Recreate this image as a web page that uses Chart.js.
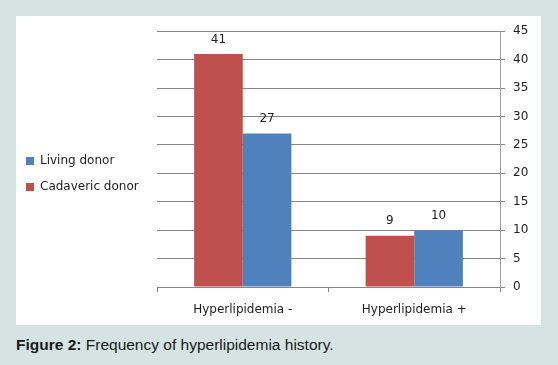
<!DOCTYPE html>
<html>
<head>
<meta charset="utf-8">
<script src="https://cdn.jsdelivr.net/npm/chart.js@4.4.1/dist/chart.umd.min.js"></script>
<style>
  html, body { margin: 0; padding: 0; }
  body { width: 558px; height: 365px; background: #d5e4e2; position: relative; overflow: hidden; }
  #panel { position: absolute; left: 16px; top: 16px; width: 525px; height: 309px; background: #fff; }
  #caption { position: absolute; left: 16px; top: 336px; font: 15.5px "Liberation Sans", Arial, sans-serif; color: #1a1a1a; white-space: nowrap; }
  #caption b { font-weight: bold; }
</style>
</head>
<body>
<div id="panel"><canvas id="chart" width="525" height="309"></canvas></div>
<div id="caption"><b>Figure 2:</b> Frequency of hyperlipidemia history.</div>
<script>
const categories = ["Hyperlipidemia -", "Hyperlipidemia +"];
const cadaveric = [41, 9];
const living = [27, 10];
const yTicks = { min: 0, max: 45, step: 5 };

const palette = {
    cadaveric: "#c0504d",
    living: "#4f81bd",
    grid: "#868686",
    axis: "#a0a0a0",
    text: "#1e1e1e",
};

const font = { family: "'DejaVu Sans', sans-serif", size: 12 };

// fixed legend column width so the plot starts where it does in the original
const legendWidth = {
    id: "legendWidth",
    beforeLayout(chart) {
        const lg = chart.legend;
        if (lg && !lg._fixed) {
            const fit = lg.fit.bind(lg);
            lg.fit = () => { fit(); lg.width = 145; };
            lg._fixed = true;
        }
    },
};

// value labels above each bar
const barLabels = {
    id: "barLabels",
    afterDatasetsDraw(chart) {
        const { ctx } = chart;
        ctx.save();
        ctx.font = `${font.size}px ${font.family}`;
        ctx.fillStyle = palette.text;
        ctx.textAlign = "center";
        ctx.textBaseline = "middle";
        chart.data.datasets.forEach((ds, i) => {
            chart.getDatasetMeta(i).data.forEach((bar, j) => {
                ctx.fillText(String(ds.data[j]), bar.x, bar.y - 14.5);
            });
        });
        ctx.restore();
    },
};

new Chart(document.getElementById("chart"), {
    type: "bar",
    data: {
        labels: categories,
        datasets: [
            { label: "Cadaveric donor", data: cadaveric, backgroundColor: palette.cadaveric },
            { label: "Living donor", data: living, backgroundColor: palette.living },
        ],
    },
    options: {
        responsive: false,
        animation: false,
        devicePixelRatio: 1,
        categoryPercentage: 0.567,
        barPercentage: 1,
        layout: { padding: { left: -4, top: 12, right: 0, bottom: 5 } },
        plugins: {
            legend: {
                position: "left",
                reverse: true,
                labels: { boxWidth: 8, boxHeight: 8, padding: 14, color: palette.text, font },
            },
            tooltip: { enabled: false },
        },
        scales: {
            x: {
                grid: { display: true, offset: true, drawOnChartArea: false, tickLength: 5, color: palette.grid },
                border: { display: true, color: palette.grid },
                ticks: { color: palette.text, font, padding: 11 },
                afterFit: (s) => { s.height = 33; },
            },
            y: {
                position: "right",
                min: yTicks.min,
                max: yTicks.max,
                grid: { color: palette.grid, tickLength: 5 },
                border: { display: true, color: palette.axis },
                ticks: { stepSize: yTicks.step, color: palette.text, font, padding: 8 },
                afterFit: (s) => { s.width = 41; },
            },
        },
    },
    plugins: [legendWidth, barLabels],
});
</script>
</body>
</html>
